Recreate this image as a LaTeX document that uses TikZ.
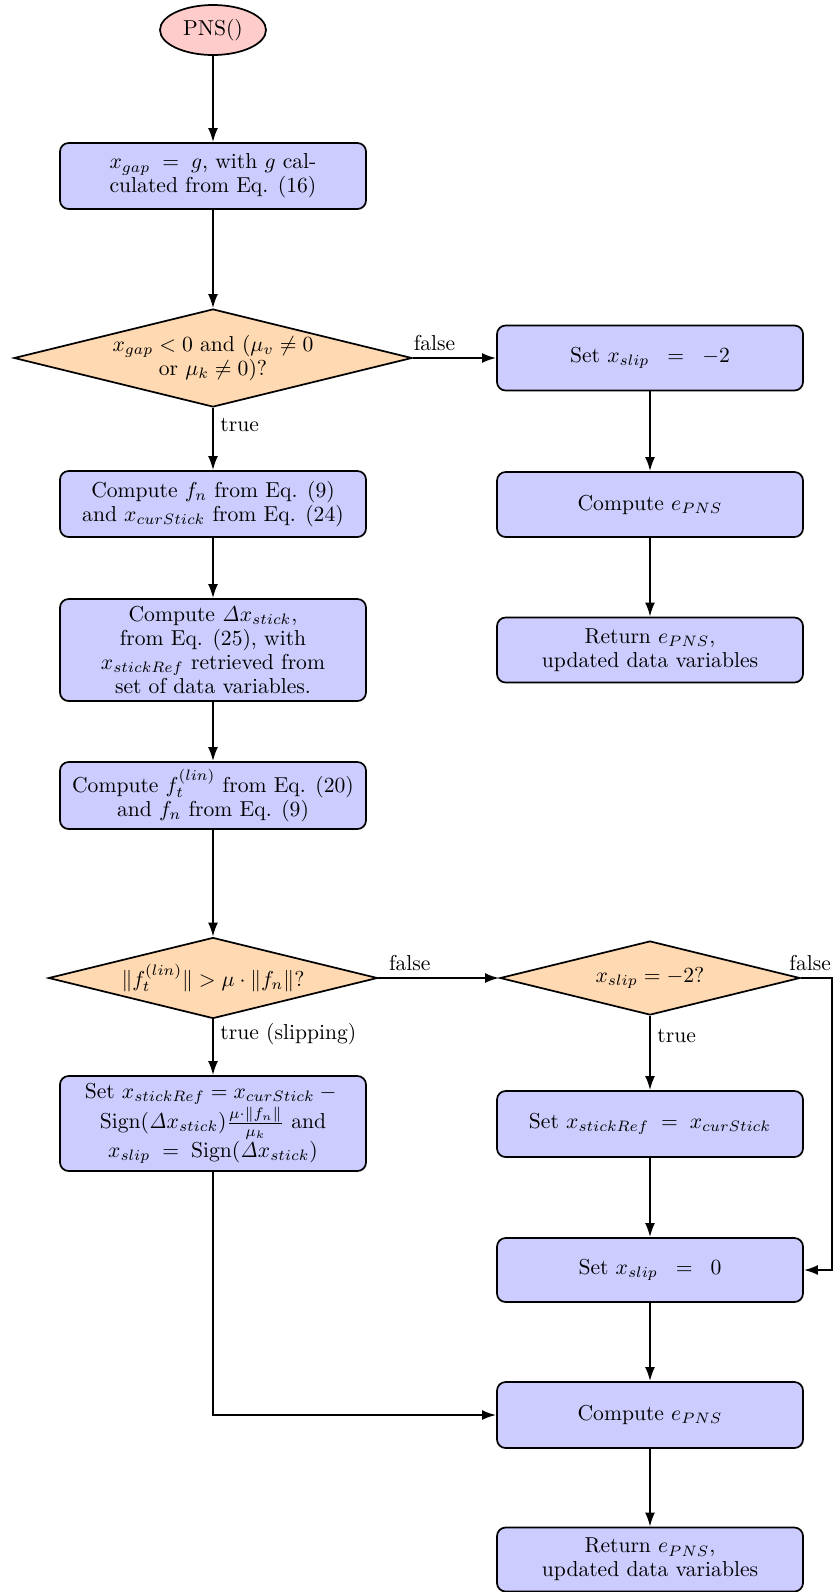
\documentclass[tikz,border=0pt]{standalone}
\usetikzlibrary{shapes.geometric,arrows.meta}
\begin{document}
\begin{tikzpicture}[x=0.463pt,y=-0.463pt,
  font={\fontsize{10}{11.1}\selectfont},
  box/.style={rectangle, rounded corners=4pt, draw, line width=0.8pt, fill=blue!20,
    align=center, minimum width=141.68pt, inner xsep=2pt, inner ysep=2pt},
  dec/.style={diamond, draw, line width=0.8pt, fill=orange!30, align=center,
    inner sep=0pt, shape aspect=4},
  arr/.style={line width=0.9pt, -{Latex[length=6.5pt,width=4.6pt]}},
  lbl/.style={inner sep=3pt}
]
\useasboundingbox (0,0) rectangle (833,1592);
% left column
\node[ellipse, draw, line width=0.8pt, fill=red!20, minimum width=49.08pt,
  minimum height=23.15pt, inner sep=0pt] (pns) at (213,30) {PNS()};
\node[box, minimum height=30.56pt] (b1) at (213,176)
  {$x_{gap}\;=\;g$, with $g$ cal-\\culated from Eq. (16)};
\node[dec, minimum width=184.27pt, minimum height=45.37pt] (d1) at (213,358)
  {$x_{gap}<0$ and $(\mu_v\neq 0$\\or $\mu_k\neq 0)$?};
\node[box, minimum height=30.56pt] (b2) at (213,504)
  {Compute $f_n$ from Eq. (9)\\and $x_{curStick}$ from Eq. (24)};
\node[box, minimum height=47.23pt] (b3) at (213,650)
  {Compute $\mathit{\Delta} x_{stick}$,\\from Eq. (25), with\\$x_{stickRef}$ retrieved from\\set of data variables.};
\node[box, minimum height=31.02pt] (b4) at (213,795.5)
  {Compute $f_t^{(lin)}$ from Eq. (20)\\and $f_n$ from Eq. (9)};
\node[dec, minimum width=152.33pt, minimum height=37.5pt] (d2) at (213,978)
  {$\|f_t^{(lin)}\|>\mu\cdot\|f_n\|$?};
\node[box, minimum height=43.99pt] (b5) at (213,1123.5)
  {Set $x_{stickRef}=x_{curStick}-{}$\\$\mathrm{Sign}(\mathit{\Delta} x_{stick})\frac{\mu\cdot\|f_n\|}{\mu_k}$ and\\$x_{slip}\;=\;\mathrm{Sign}(\mathit{\Delta} x_{stick})$};
% right column top
\node[box, minimum height=30.1pt] (r1) at (650,358)
  {Set $x_{slip}\;\;=\;\;-2$};
\node[box, minimum height=30.1pt] (r2) at (650,504.5) {Compute $e_{PNS}$};
\node[box, minimum height=30.1pt] (r3) at (650,650)
  {Return $e_{PNS}$,\\updated data variables};
% right column bottom
\node[dec, minimum width=138.9pt, minimum height=34.26pt] (d3) at (650,978)
  {$x_{slip}=-2$?};
\node[box, minimum height=30.56pt] (r4) at (650,1124)
  {Set $x_{stickRef}\;=\;x_{curStick}$};
\node[box, minimum height=29.63pt] (r5) at (650,1270)
  {Set $x_{slip}\;\;=\;\;0$};
\node[box, minimum height=30.56pt] (r6) at (650,1415) {Compute $e_{PNS}$};
\node[box, minimum height=29.63pt] (r7) at (650,1559.5)
  {Return $e_{PNS}$,\\updated data variables};
\coordinate (fc) at (832,978);
% connectors
\draw[arr] (pns) -- (b1);
\draw[arr] (b1) -- (d1);
\draw[arr] (d1) -- node[lbl, above, pos=0.26] {false} (r1);
\draw[arr] (d1) -- node[lbl, right, pos=0.27] {true} (b2);
\draw[arr] (r1) -- (r2);
\draw[arr] (r2) -- (r3);
\draw[arr] (b2) -- (b3);
\draw[arr] (b3) -- (b4);
\draw[arr] (b4) -- (d2);
\draw[arr] (d2) -- node[lbl, above, pos=0.26] {false} (d3);
\draw[arr] (d2) -- node[lbl, right, pos=0.26] {true (slipping)} (b5);
\draw[arr] (d3) -- node[lbl, right, pos=0.27] {true} (r4);
\draw[arr] (r4) -- (r5);
\draw[arr] (d3.east) -- node[lbl, above, pos=0.3] {false} (fc) |- (r5.east);
\draw[arr] (r5) -- (r6);
\draw[arr] (b5.south) |- (r6.west);
\draw[arr] (r6) -- (r7);
\end{tikzpicture}
\end{document}
